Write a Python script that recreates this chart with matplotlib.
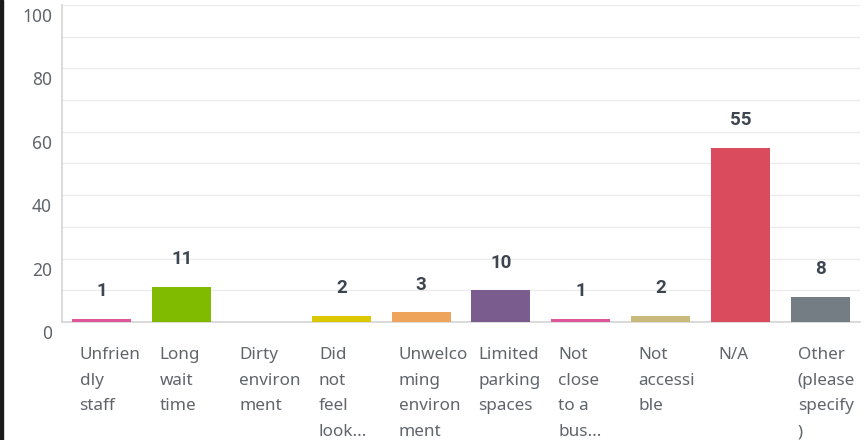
import matplotlib.pyplot as plt
from matplotlib.patches import Rectangle
from matplotlib.transforms import ScaledTranslation

categories = [
    "Unfrien\ndly\nstaff",
    "Long\nwait\ntime",
    "Dirty\nenviron\nment",
    "Did\nnot\nfeel\nlook...",
    "Unwelco\nming\nenviron\nment",
    "Limited\nparking\nspaces",
    "Not\nclose\nto a\nbus...",
    "Not\naccessi\nble",
    "N/A",
    "Other\n(please\nspecify\n)",
]
counts = [1, 11, 0, 2, 3, 10, 1, 2, 55, 8]
colors = ["#e0569c", "#80bb00", "#00bf6f", "#dcc800", "#eea45a",
          "#7b5c8f", "#e0569c", "#c9b97a", "#d94b5d", "#747c84"]
yticks = [0, 20, 40, 60, 80, 100]

plt.rcParams['font.family'] = ['Noto Sans', 'DejaVu Sans']

fig = plt.figure(figsize=(8.68, 4.40), dpi=100)
ax = fig.add_axes([62 / 868, 1 - 322 / 440, 798 / 868, 317 / 440])

x = [i + 0.5 for i in range(len(counts))]
ax.bar(x, counts, width=0.74, color=colors, zorder=3)

# value labels above bars (skip the empty one)
for xi, c in zip(x, counts):
    if c > 0:
        ax.annotate(str(c), (xi, c), xytext=(0, 13.5), textcoords="offset points",
                    ha="center", va="bottom", fontsize=13.5, fontweight="bold",
                    family=["Roboto", "DejaVu Sans"], color="#3d4650")

# category labels, wrapped and left aligned under each slot
for i, lab in enumerate(categories):
    ax.text(i + 0.22, -0.078, lab, transform=ax.get_xaxis_transform(),
            ha="left", va="top", fontsize=12.3, color="#5f656b", linespacing=1.82)

ax.set_xlim(0, 10)
ax.set_ylim(0, 100)
ax.set_xticks([])
ax.set_yticks(yticks)
ax.set_yticks(range(10, 100, 10), minor=True)
ax.tick_params(axis="y", which="both", length=0, labelleft=False)

# y tick labels sit a little below their gridlines
shift = ax.get_yaxis_transform() + ScaledTranslation(-10 / 100, -12 / 100, fig.dpi_scale_trans)
for v in yticks:
    ax.text(0, v, str(v), transform=shift, ha="right", va="center",
            fontsize=12.5, color="#5f656b")

ax.grid(axis="y", which="both", color="#ececec", linewidth=1, zorder=0)
for s in ["top", "right"]:
    ax.spines[s].set_visible(False)
ax.spines["left"].set_color("#d4d4d4")
ax.spines["bottom"].set_color("#d4d4d4")
ax.spines["left"].set_linewidth(1.2)
ax.spines["bottom"].set_linewidth(1.2)

# thin dark edge on the left of the image
fig.patches.append(Rectangle((0, 0), 2.5 / 868, 1, transform=fig.transFigure,
                             color="#1a1a1a", zorder=10))

fig.savefig("out.png", dpi=100)
